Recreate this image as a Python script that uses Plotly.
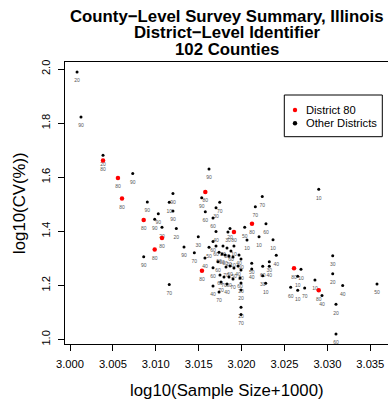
import plotly.graph_objects as go

# log10(Sample Size+1000)
log_size = [
    3.00082, 3.00128, 3.00385, 3.00385, 3.00559, 3.00731, 3.00606, 3.00901, 3.00859, 3.00859,
    3.01200, 3.01157, 3.01200, 3.01029, 3.00987, 3.01072, 3.01072, 3.01239, 3.00987, 3.01329,
    3.01157, 3.01495, 3.01449, 3.01577, 3.01535, 3.01577, 3.01538, 3.01667, 3.01667, 3.01620,
    3.01620, 3.02899, 3.02241, 3.02160, 3.02121, 3.02284, 3.02036, 3.02203, 3.02366, 3.02404,
    3.02323, 3.02323, 3.02246, 3.02246, 3.02281, 3.02611, 3.02692, 3.02654, 3.02572, 3.02654,
    3.02735, 3.02855, 3.02899, 3.02937, 3.03062, 3.03062, 3.03178, 3.03100, 3.03100, 3.03578,
    3.01993, 3.01993, 3.01745, 3.01702, 3.01667, 3.01911,
    3.01702, 3.01865, 3.01841, 3.01667, 3.01702, 3.01737, 3.01783, 3.01830, 3.01876, 3.01911,
    3.01772, 3.01807, 3.01853, 3.01900, 3.01970, 3.01993, 3.01725, 3.01818, 3.01865, 3.01911,
    3.01958, 3.01993, 3.01748, 3.01795, 3.01853, 3.01900, 3.01981, 3.01993, 3.01760, 3.01830,
    3.01993, 3.02118, 3.02118, 3.01737, 3.02063, 3.01573,
]
# log10(CV(%))
log_cv = [
    1.989, 1.823, 1.681, 1.662, 1.597, 1.614, 1.521, 1.508, 1.442, 1.306,
    1.540, 1.507, 1.475, 1.465, 1.445, 1.415, 1.375, 1.410, 1.333, 1.342,
    1.203, 1.380, 1.321, 1.545, 1.524, 1.472, 1.254, 1.265, 1.198, 1.341,
    1.630, 1.555, 1.529, 1.491, 1.428, 1.428, 1.415, 1.380, 1.369, 1.311,
    1.287, 1.271, 1.271, 1.236, 1.208, 1.263, 1.260, 1.234, 1.193, 1.182,
    1.190, 1.220, 1.182, 1.163, 1.310, 1.243, 1.200, 1.130, 1.020, 1.205,
    1.119, 1.092, 1.507, 1.487, 1.449, 1.397,
    1.399, 1.410, 1.397, 1.362, 1.346, 1.323, 1.346, 1.338, 1.327, 1.346,
    1.316, 1.312, 1.309, 1.305, 1.312, 1.298, 1.287, 1.268, 1.272, 1.264,
    1.272, 1.257, 1.238, 1.231, 1.231, 1.224, 1.227, 1.209, 1.213, 1.205,
    1.183, 1.282, 1.261, 1.176, 1.368, 1.301,
]
# district identifier of each county
district = [
    "20", "90", "20", "80", "80", "90", "80", "90", "80", "90",
    "90", "10", "90", "90", "90", "20", "80", "20", "80", "90",
    "70", "30", "70", "80", "90", "60", "80", "60", "40", "50",
    "90", "10", "70", "70", "80", "60", "50", "10", "10", "40",
    "30", "40", "60", "30", "10", "80", "10", "10", "60", "10",
    "70", "10", "80", "40", "30", "20", "40", "20", "60", "50",
    "20", "70", "70", "30", "60", "80",
    "40", "20", "30", "60", "60", "60", "20", "30", "60", "10",
    "50", "60", "20", "10", "40", "60", "60", "70", "60", "50",
    "40", "30", "60", "70", "60", "70", "60", "20", "70", "40",
    "20", "50", "40", "70", "10", "40",
]

x_ticks = [3.000, 3.005, 3.010, 3.015, 3.020, 3.025, 3.030, 3.035]
y_ticks = [1.0, 1.2, 1.4, 1.6, 1.8, 2.0]

W, H = 388, 399
ML, MR, MT, MB = 65, 0, 62, 55
PW, PH = W - ML - MR, H - MT - MB
FONT = "Liberation Sans, Arial, sans-serif"

def px_x(p):
    return (p - ML) / PW

def px_y(p):
    return (H - MB - p) / PH

oth_x = [x for x, d in zip(log_size, district) if d != "80"]
oth_y = [y for y, d in zip(log_cv, district) if d != "80"]
d80_x = [x for x, d in zip(log_size, district) if d == "80"]
d80_y = [y for y, d in zip(log_cv, district) if d == "80"]

fig = go.Figure()
# district number labels under each county point
fig.add_trace(go.Scatter(
    x=log_size, y=log_cv, text=district, mode="markers+text",
    marker=dict(color="rgba(0,0,0,0)", size=9),
    textposition="bottom center",
    textfont=dict(family=FONT, size=5, color="#555555"),
    showlegend=False, cliponaxis=False, hoverinfo="skip",
))
fig.add_trace(go.Scatter(
    x=oth_x, y=oth_y, mode="markers", name="Other Districts",
    marker=dict(color="black", size=3),
    showlegend=False, cliponaxis=False,
))
fig.add_trace(go.Scatter(
    x=d80_x, y=d80_y, mode="markers", name="District 80",
    marker=dict(color="red", size=4.5),
    showlegend=False, cliponaxis=False,
))

fig.update_layout(
    width=W, height=H,
    margin=dict(l=ML, r=MR, t=MT, b=MB, pad=0),
    paper_bgcolor="white", plot_bgcolor="white",
    font=dict(family=FONT, color="black"),
    showlegend=False,
)
fig.update_xaxes(
    range=[2.999417, 3.037063], tickvals=x_ticks, ticktext=[f"{v:.3f}" for v in x_ticks],
    ticks="outside", ticklen=6, tickcolor="black", tickwidth=1,
    showline=True, linecolor="black", linewidth=1, mirror=True,
    showgrid=False, zeroline=False, tickfont=dict(size=11.2, family=FONT),
    ticklabelstandoff=4,
)
fig.update_yaxes(
    range=[0.98336, 2.02588], tickvals=y_ticks, ticktext=[f"{v:.1f}" for v in y_ticks],
    ticks="outside", ticklen=6, tickcolor="black", tickwidth=1,
    showline=True, linecolor="black", linewidth=1, mirror=False,
    showgrid=False, zeroline=False, tickfont=dict(size=11.2, family=FONT),
    tickangle=-90, ticklabelstandoff=4,
)

titles = ["County\u2212Level Survey Summary, Illinois", "District\u2212Level Identifier", "102 Counties"]
for i, t in enumerate(titles):
    fig.add_annotation(
        text=f"<b>{t}</b>", xref="paper", yref="paper",
        x=px_x(227), y=px_y(16 + 17 * i), xanchor="center", yanchor="middle",
        showarrow=False, font=dict(size=16.8, family=FONT, color="black"),
    )

fig.add_annotation(text="log10(Sample Size+1000)", xref="paper", yref="paper",
                   x=px_x(227), y=px_y(390), xanchor="center", yanchor="middle",
                   showarrow=False, font=dict(size=16.8, family=FONT, color="black"))
fig.add_annotation(text="log10(CV(%))", xref="paper", yref="paper",
                   x=px_x(19), y=px_y(203), xanchor="center", yanchor="middle",
                   textangle=-90, showarrow=False,
                   font=dict(size=16.8, family=FONT, color="black"))

# legend box
fig.add_shape(type="rect", xref="paper", yref="paper",
              x0=px_x(284.3), x1=px_x(382.3), y0=px_y(136.7), y1=px_y(95),
              line=dict(color="black", width=1), fillcolor="white")
for col, ypx, lab in [("red", 110, "District 80"), ("black", 123.3, "Other Districts")]:
    fig.add_shape(type="circle", xref="paper", yref="paper",
                  xsizemode="pixel", ysizemode="pixel",
                  xanchor=px_x(295), yanchor=px_y(ypx),
                  x0=-2.2, x1=2.2, y0=-2.2, y1=2.2,
                  line=dict(color=col, width=0), fillcolor=col)
    fig.add_annotation(text=lab, xref="paper", yref="paper",
                       x=px_x(304), y=px_y(ypx), xanchor="left", yanchor="middle",
                       showarrow=False, font=dict(size=11.2, family=FONT, color="black"))

fig.write_html("out.html")
